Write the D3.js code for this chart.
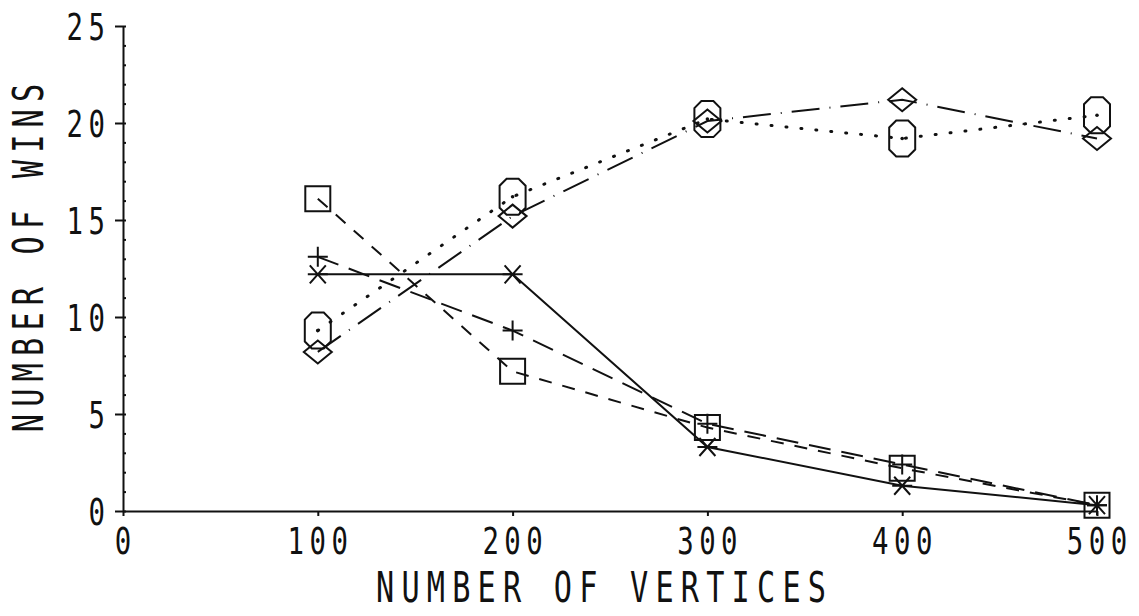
<!DOCTYPE html>
<html>
<head>
<meta charset="utf-8">
<script src="https://cdn.jsdelivr.net/npm/d3@7"></script>
<style>
  body { margin: 0; background: #fff; }
  text { font-family: "DejaVu Sans Mono", monospace; fill: #111; }
</style>
</head>
<body>
<div id="wrapper"></div>
<script>
// values
const vertices = [100, 200, 300, 400, 500];
const winsStar = [12.2, 12.2, 3.3, 1.3, 0.3];
const winsPlus = [13.1, 9.3, 4.5, 2.4, 0.3];
const winsSquare = [16.1, 7.2, 4.3, 2.2, 0.3];
const winsOctagon = [9.3, 16.2, 20.2, 19.2, 20.4];
const winsDiamond = [8.2, 15.2, 20.1, 21.2, 19.2];
const xTicks = [0, 100, 200, 300, 400, 500];
const yTicks = [0, 5, 10, 15, 20, 25];

const dimension = {
    width: 1139,
    height: 616,
    left: 123,
    right: 1097,
    top: 26,
    bottom: 511,
}

const wrapper = d3.select("#wrapper")
    .append("svg")
    .attr("width", dimension.width)
    .attr("height", dimension.height)

wrapper.append("rect")
    .attr("width", dimension.width)
    .attr("height", dimension.height)
    .attr("fill", "#fff")

const xScaler = d3.scaleLinear()
    .domain([0, 500])
    .range([dimension.left, dimension.right])

const yScaler = d3.scaleLinear()
    .domain([0, 25])
    .range([dimension.bottom, dimension.top])

// axes
const xAxisGen = d3.axisBottom(xScaler)
    .tickValues(xTicks)
    .tickSize(5)
    .tickSizeOuter(0)
    .tickFormat("")
const xAxis = wrapper.append("g")
    .attr("transform", `translate(0,${dimension.bottom})`)
    .call(xAxisGen)

const yMinor = wrapper.append("g")
    .attr("transform", `translate(${dimension.left},0)`)
    .call(d3.axisRight(yScaler).ticks(25).tickSize(3).tickSizeOuter(0).tickFormat(""))
yMinor.select(".domain").remove()

const yAxisGen = d3.axisLeft(yScaler)
    .tickValues(yTicks)
    .tickSize(8)
    .tickSizeOuter(0)
    .tickFormat("")
const yAxis = wrapper.append("g")
    .attr("transform", `translate(${dimension.left},0)`)
    .call(yAxisGen)

wrapper.selectAll(".domain, .tick line")
    .attr("stroke", "#111")
    .attr("stroke-width", 2)

// narrow, widely spaced plotter-style text
const squeeze = 0.72
function plotText(x, y, str, size, spacing, anchor, angle) {
    // letter-spacing also trails the last glyph, shift to keep it centred
    const shift = anchor == "middle" ? spacing * squeeze / 2 : anchor == "end" ? spacing * squeeze : 0
    return wrapper.append("g")
        .attr("transform", `translate(${x},${y}) rotate(${angle || 0}) translate(${shift},0) scale(${squeeze},1)`)
        .append("text")
        .attr("text-anchor", anchor)
        .attr("font-size", size + "px")
        .attr("letter-spacing", spacing + "px")
        .text(str)
}

xTicks.forEach(d => plotText(xScaler(d), 554, d, 38, 7.6, "middle"))
yTicks.forEach(d => plotText(105, yScaler(d) + 14, d, 38, 7.6, "end"))

plotText(601, 602, "NUMBER OF VERTICES", 42, 10, "middle")
plotText(43, 258, "NUMBER OF WINS", 42, 10, "middle", -90)

// marker shapes, centred on 0,0
const squarePath = () => "M-12.5,-12.5H12.5V12.5H-12.5Z"
const plusPath = () => "M-10,0H10M0,-10V10"
const starPath = () => "M-10,0H10M-8,-9L8,9M-8,9L8,-9"
const octagonPath = () => "M-6,-18H6L13,-11V11L6,18H-6L-13,11V-11Z"
const diamondPath = () => "M0,-11.5L14,0L0,11.5L-14,0Z"

const series = [
    { values: winsStar, dash: null, marker: starPath, dot: false },
    { values: winsPlus, dash: "22,11", marker: plusPath, dot: false },
    { values: winsSquare, dash: "13,11", marker: squarePath, dot: false },
    { values: winsOctagon, dash: "1,14", marker: octagonPath, dot: true },
    { values: winsDiamond, dash: "28,10,1,10", marker: diamondPath, dot: false },
]

const lineGen = d3.line()
    .x(d => xScaler(d[0]))
    .y(d => yScaler(d[1]))

series.forEach(s => {
    const pts = vertices.map((v, i) => [v, s.values[i]])

    wrapper.append("path")
        .datum(pts)
        .attr("d", lineGen)
        .attr("fill", "none")
        .attr("stroke", "#111")
        .attr("stroke-width", s.dot ? 3 : 2)
        .attr("stroke-linecap", s.dot ? "round" : "butt")
        .attr("stroke-dasharray", s.dash)

    const marks = wrapper.append("g").selectAll("g")
        .data(pts)
        .enter()
        .append("g")
        .attr("transform", d => `translate(${xScaler(d[0])},${yScaler(d[1])})`)

    marks.append("path")
        .attr("d", s.marker)
        .attr("fill", "none")
        .attr("stroke", "#111")
        .attr("stroke-width", 2)

    if (s.dot) {
        marks.append("circle")
            .attr("r", 1.8)
            .attr("fill", "#111")
    }
})
</script>
</body>
</html>
